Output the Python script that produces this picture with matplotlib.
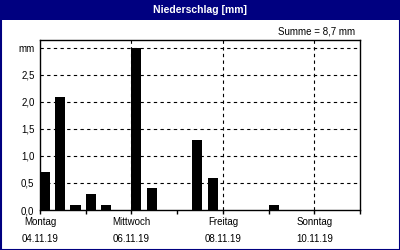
import matplotlib
matplotlib.use("Agg")
import matplotlib.pyplot as plt
from matplotlib.patches import Rectangle
import matplotlib.transforms as mtransforms

plt.rcParams["font.family"] = ["Liberation Sans", "DejaVu Sans"]

# ==========================================================
#                 DONNEES (pas de 8 heures)
# ==========================================================
rain = [0.7, 2.1, 0.1, 0.3, 0.1, 0.0,
        3.0, 0.4, 0.0, 0.0, 1.3, 0.6,
        0.0, 0.0, 0.0, 0.1, 0.0, 0.0,
        0.0, 0.0, 0.0]
slot_days = [i / 3 for i in range(len(rain))]

day_pos = [0, 2, 4, 6]
day_names = ["Montag", "Mittwoch", "Freitag", "Sonntag"]
day_dates = ["04.11.19", "06.11.19", "08.11.19", "10.11.19"]

y_ticks = [0.0, 0.5, 1.0, 1.5, 2.0, 2.5, 3.0]
y_labels = ["0,0", "0,5", "1,0", "1,5", "2,0", "2,5", "mm"]

title = "Niederschlag [mm]"
summe = "Summe = 8,7 mm"

navy = "#000080"
W, H = 400, 250

fig = plt.figure(figsize=(4, 2.5), dpi=100)
fig.patch.set_facecolor("white")

# bandeau titre + cadre
fig.patches.append(Rectangle((0, 230 / H), 1, 20 / H, transform=fig.transFigure,
                             facecolor=navy, edgecolor="none", zorder=0))
fig.patches.append(Rectangle((0.5 / W, 0.5 / H), 1 - 1 / W, 1 - 1 / H,
                             transform=fig.transFigure, facecolor="none",
                             edgecolor=navy, linewidth=1.5, zorder=5))
fig.text(0.5, 240 / H, title, color="white", fontsize=7.5, fontweight="bold",
         ha="center", va="center")
fig.text(355 / W, 219 / H, summe, color="black", fontsize=7,
         ha="right", va="center")

# ----------------- AXE PRINCIPAL --------------------
ax = fig.add_axes([40 / W, 40 / H, 320 / W, 170 / H])
ax.bar(slot_days, rain, width=0.22, align="edge", color="black", zorder=3)

ax.set_xlim(0, 7)
ax.set_ylim(0, 3.148)

ax.set_yticks(y_ticks)
ax.set_yticklabels(y_labels, fontsize=7)
ax.tick_params(axis="y", length=0, pad=4)

ax.set_xticks(range(8))
ax.set_xticklabels([])
ax.tick_params(axis="x", direction="out", length=3, width=1, color="black")

for y in y_ticks[1:]:
    ax.axhline(y, color="black", linestyle=(0, (3, 3)), linewidth=0.8, zorder=1)
for x in day_pos[1:]:
    ax.axvline(x, color="black", linestyle=(0, (3, 3)), linewidth=0.8, zorder=1)

for sp in ax.spines.values():
    sp.set_color("black")
    sp.set_linewidth(1)

trans = mtransforms.blended_transform_factory(ax.transData, fig.transFigure)
for x, name, date in zip(day_pos, day_names, day_dates):
    ax.text(x, (H - 222) / H, name, transform=trans, fontsize=7,
            ha="center", va="center")
    ax.text(x, (H - 239) / H, date, transform=trans, fontsize=7,
            ha="center", va="center")

fig.savefig("out.png", dpi=100)
